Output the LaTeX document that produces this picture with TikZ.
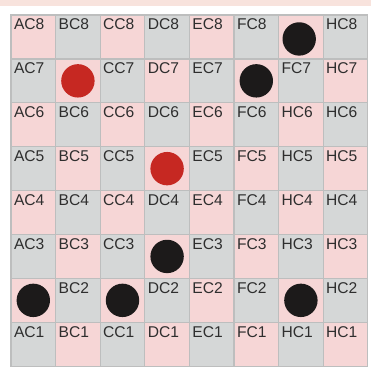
\documentclass[tikz,border=0pt]{standalone}
\usepackage{fontspec}
\setmainfont{Liberation Sans}
\definecolor{cellpink}{HTML}{F6D6D6}
\definecolor{cellgray}{HTML}{D5D7D7}
\definecolor{gridline}{HTML}{BDBEBE}
\definecolor{bandpink}{HTML}{F8E3DD}
\definecolor{txt}{HTML}{2E2E2E}
\definecolor{redpiece}{HTML}{C62822}
\definecolor{blackpiece}{HTML}{1C1A1A}
\begin{document}
\begin{tikzpicture}[x=1pt,y=-1pt,
  cell/.style={draw=gridline, line width=1.2pt, minimum width=44.6pt, minimum height=43.9pt, inner sep=0pt, outer sep=0pt, anchor=north west},
  lbl/.style={text=txt, font=\fontsize{15.6}{18}\selectfont, anchor=north west, inner sep=0pt, outer sep=0pt},
  piece/.style={circle, minimum size=33.4pt, inner sep=0pt}]
\useasboundingbox (0,0) rectangle (371,367);
\fill[bandpink] (0,0) rectangle (371,6);
\foreach \i in {0,...,7}{
  \foreach \j in {0,...,7}{
    \pgfmathtruncatemacro\p{mod(\i+\j,2)}
    \ifnum\p=0 \def\fc{cellpink}\else\def\fc{cellgray}\fi
    \node[cell, fill=\fc] (c\j-\i) at (11+44.6*\j, 15+43.9*\i) {};
  }
}
\foreach \j/\i/\t in {
  0/0/AC8, 1/0/BC8, 2/0/CC8, 3/0/DC8, 4/0/EC8, 5/0/FC8, 7/0/HC8,
  0/1/AC7, 2/1/CC7, 3/1/DC7, 4/1/EC7, 6/1/FC7, 7/1/HC7,
  0/2/AC6, 1/2/BC6, 2/2/CC6, 3/2/DC6, 4/2/EC6, 5/2/FC6, 6/2/HC6, 7/2/HC6,
  0/3/AC5, 1/3/BC5, 2/3/CC5, 4/3/EC5, 5/3/FC5, 6/3/HC5, 7/3/HC5,
  0/4/AC4, 1/4/BC4, 2/4/CC4, 3/4/DC4, 4/4/EC4, 5/4/FC4, 6/4/HC4, 7/4/HC4,
  0/5/AC3, 1/5/BC3, 2/5/CC3, 4/5/EC3, 5/5/FC3, 6/5/HC3, 7/5/HC3,
  1/6/BC2, 3/6/DC2, 4/6/EC2, 5/6/FC2, 7/6/HC2,
  0/7/AC1, 1/7/BC1, 2/7/CC1, 3/7/DC1, 4/7/EC1, 5/7/FC1, 6/7/HC1, 7/7/HC1}
  \node[lbl] (t\j-\i) at ([shift={(3,4)}]c\j-\i.north west) {\t};
\node[piece, fill=blackpiece] (g8) at ([shift={(-1.7,2)}]c6-0.center) {};
\node[piece, fill=redpiece] (b7) at (c1-1.center) {};
\node[piece, fill=blackpiece] (f7) at (c5-1.center) {};
\node[piece, fill=redpiece] (d5) at (c3-3.center) {};
\node[piece, fill=blackpiece] (d3) at (c3-5.center) {};
\node[piece, fill=blackpiece] (a2) at (c0-6.center) {};
\node[piece, fill=blackpiece] (c2) at (c2-6.center) {};
\node[piece, fill=blackpiece] (g2) at (c6-6.center) {};
\end{tikzpicture}
\end{document}
